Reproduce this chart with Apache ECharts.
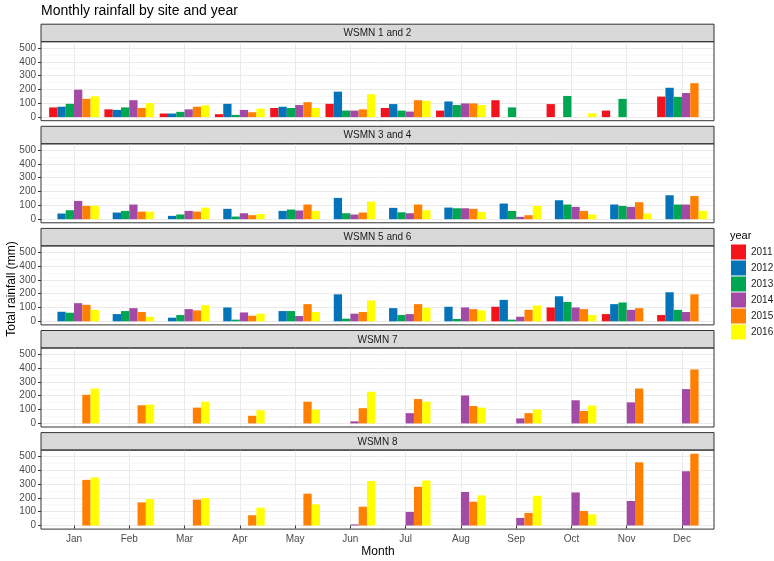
<!DOCTYPE html>
<html><head><meta charset="utf-8">
<script src="https://cdn.jsdelivr.net/npm/echarts@6/dist/echarts.min.js"></script>
<style>html,body{margin:0;padding:0;background:#fff}#c{width:774px;height:561px}</style>
</head><body><div id="c"></div>
<script>
// ---------- data ----------
const months = ['Jan','Feb','Mar','Apr','May','Jun','Jul','Aug','Sep','Oct','Nov','Dec'];
const years = ['2011','2012','2013','2014','2015','2016'];
const sites = ['WSMN 1 and 2','WSMN 3 and 4','WSMN 5 and 6','WSMN 7','WSMN 8'];
const yTicks = [0,100,200,300,400,500];
const N = null;
// rows: 2011..2016, columns: Jan..Dec (mm)
const wsmn12 = [
  [70,56,26,21,66,96,66,47,122,94,47,148],
  [75,52,26,96,75,184,94,113,N,N,N,212],
  [96,70,38,16,66,47,47,87,70,153,132,146],
  [198,122,56,52,87,47,40,99,N,N,N,174],
  [132,66,75,35,108,56,122,99,N,N,N,245],
  [150,101,85,61,66,165,118,87,N,28,N,N]
];
const wsmn34 = [
  [N,N,N,N,N,N,N,N,N,N,N,N],
  [41,48,24,75,60,154,82,84,113,137,106,173],
  [65,60,34,19,70,43,50,79,60,106,96,106],
  [132,106,60,43,63,34,43,79,17,89,89,106],
  [96,55,55,29,106,48,106,75,29,60,123,168],
  [97,55,84,38,60,127,65,53,96,34,41,60]
];
const wsmn56 = [
  [N,N,N,N,N,N,N,N,105,100,52,45],
  [69,52,26,100,74,195,95,105,155,181,124,210],
  [62,74,45,12,74,19,45,17,12,140,136,83],
  [131,95,88,64,38,55,52,100,33,100,83,67],
  [119,67,79,40,124,67,124,88,83,88,95,195],
  [83,33,117,55,67,150,98,79,114,45,N,N]
];
const wsmn7 = [
  [N,N,N,N,N,N,N,N,N,N,N,N],
  [N,N,N,N,N,N,N,N,N,N,N,N],
  [N,N,N,N,N,N,N,N,N,N,N,N],
  [N,N,N,N,N,15,74,202,36,167,152,248],
  [207,131,114,55,157,110,176,126,74,90,252,390],
  [252,136,157,95,100,229,157,114,100,129,N,N]
];
const wsmn8 = [
  [N,N,N,N,N,N,N,N,N,N,N,N],
  [N,N,N,N,N,N,N,N,N,N,N,N],
  [N,N,N,N,N,N,N,N,N,N,N,N],
  [N,N,N,N,N,8,98,242,55,239,177,392],
  [330,167,187,74,230,136,280,172,91,105,457,519],
  [347,191,199,129,153,321,325,218,215,81,N,N]
];
const siteData = [wsmn12, wsmn34, wsmn56, wsmn7, wsmn8];
const colors = ['#F2131D','#0473B8','#00A651','#A24AA6','#FF7F00','#FFFF00'];

// ---------- layout ----------
const FONT = "'Liberation Sans', Arial, sans-serif";
const PANEL_LEFT = 41, PANEL_W = 673;
const FIRST_X = 74, LAST_X = 682;
const Y_MIN = -26, Y_MAX = 545;
const PLOT_H = 79, STRIP_H = 17.5;
const plotTops = [41.7, 143.8, 245.9, 348.0, 450.1];

const chart = echarts.init(document.getElementById('c'), null, {renderer: 'canvas'});
const grid = [], xAxis = [], yAxis = [], series = [], graphic = [];

plotTops.forEach((top, i) => {
  const last = i === plotTops.length - 1;
  const base = grid.length;
  // strip
  grid.push({left: PANEL_LEFT, width: PANEL_W, top: top - STRIP_H, height: STRIP_H, show: true,
    backgroundColor: '#D9D9D9', borderColor: '#333333', borderWidth: 1, containLabel: false, outerBoundsMode: 'none'});
  xAxis.push({gridIndex: base, type: 'value', show: false});
  yAxis.push({gridIndex: base, type: 'value', show: false});
  graphic.push({type: 'text', x: PANEL_LEFT + PANEL_W / 2, y: top - STRIP_H / 2 + 0.5, silent: true,
    style: {text: sites[i], fill: '#1A1A1A', font: '10px ' + FONT, textAlign: 'center', textVerticalAlign: 'middle'}});
  // panel border
  grid.push({left: PANEL_LEFT, width: PANEL_W, top: top, height: PLOT_H, show: true,
    backgroundColor: 'transparent', borderColor: '#333333', borderWidth: 1, containLabel: false, outerBoundsMode: 'none', z: 3});
  xAxis.push({gridIndex: base + 1, type: 'value', show: false});
  yAxis.push({gridIndex: base + 1, type: 'value', show: false});
  // horizontal grid lines + y labels
  const scale = PLOT_H / (Y_MAX - Y_MIN);
  grid.push({left: PANEL_LEFT, width: PANEL_W, top: top + (Y_MAX - yTicks[yTicks.length - 1]) * scale,
    height: (yTicks[yTicks.length - 1] - yTicks[0]) * scale, containLabel: false, outerBoundsMode: 'none'});
  xAxis.push({gridIndex: base + 2, type: 'value', show: false});
  yAxis.push({gridIndex: base + 2, type: 'value', min: yTicks[0], max: yTicks[yTicks.length - 1], interval: 100,
    axisLine: {show: false},
    axisTick: {show: true, length: 3, lineStyle: {color: '#333333', width: 1}},
    axisLabel: {fontSize: 10, color: '#4D4D4D', margin: 5, fontFamily: FONT},
    splitLine: {show: true, lineStyle: {color: '#EBEBEB', width: 1}},
    minorTick: {show: false, splitNumber: 2},
    minorSplitLine: {show: true, lineStyle: {color: '#F4F4F4', width: 0.6}}});
  // bars + vertical grid lines
  grid.push({left: FIRST_X, width: LAST_X - FIRST_X, top: top, height: PLOT_H, containLabel: false, outerBoundsMode: 'none'});
  xAxis.push({gridIndex: base + 3, type: 'category', data: months, boundaryGap: false,
    axisLine: {show: false},
    axisTick: {show: last, length: 3, lineStyle: {color: '#333333', width: 1}},
    axisLabel: {show: last, interval: 0, fontSize: 10, color: '#4D4D4D', margin: 5, fontFamily: FONT},
    splitLine: {show: true, interval: 0, lineStyle: {color: '#EBEBEB', width: 1}},
    name: last ? 'Month' : '', nameLocation: 'middle', nameGap: 17,
    nameTextStyle: {fontSize: 12, color: '#000000', fontFamily: FONT}});
  yAxis.push({gridIndex: base + 3, type: 'value', min: Y_MIN, max: Y_MAX, show: false});
  years.forEach((yr, j) => {
    series.push({type: 'bar', name: yr, xAxisIndex: base + 3, yAxisIndex: base + 3,
      data: siteData[i][j], barGap: '0%', barCategoryGap: '10%', clip: false, silent: true,
      itemStyle: {color: colors[j]}});
  });
});

graphic.push({type: 'text', x: 12, y: 289, rotation: Math.PI / 2, silent: true,
  style: {text: 'Total rainfall (mm)', fill: '#000000', font: '12px ' + FONT, textAlign: 'center', textVerticalAlign: 'middle'}});
graphic.push({type: 'text', x: 730, y: 236, silent: true,
  style: {text: 'year', fill: '#000000', font: '11px ' + FONT, textAlign: 'left', textVerticalAlign: 'middle'}});

chart.setOption({
  backgroundColor: '#FFFFFF',
  animation: false,
  color: colors,
  title: {text: 'Monthly rainfall by site and year', left: 41, top: 4, padding: 0,
    textStyle: {fontSize: 14, fontWeight: 'normal', color: '#000000', fontFamily: FONT}},
  legend: {data: years, orient: 'vertical', left: 731, top: 244.5, padding: 0,
    itemWidth: 15, itemHeight: 15, itemGap: 1, icon: 'rect', selectedMode: false,
    textStyle: {fontSize: 10, color: '#1A1A1A', fontFamily: FONT}},
  grid, xAxis, yAxis, series, graphic
});
</script></body></html>
